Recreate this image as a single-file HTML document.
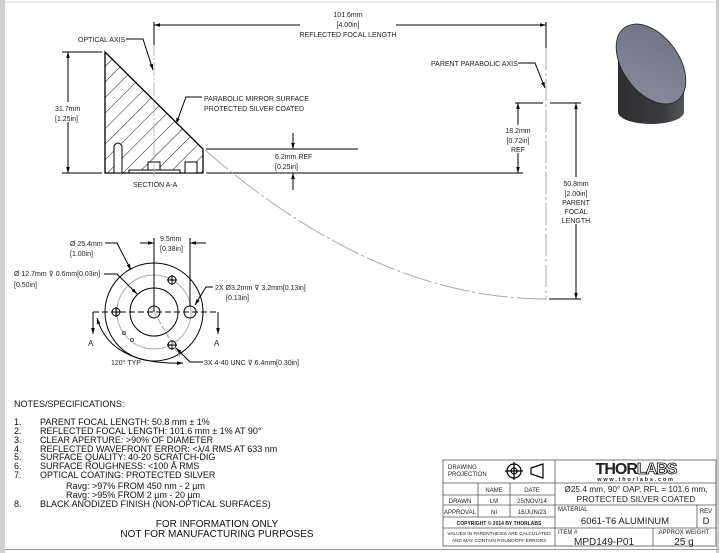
<!DOCTYPE html>
<html><head><meta charset="utf-8"><style>
html,body{margin:0;padding:0;background:#fff;}
svg{display:block;font-family:"Liberation Sans","DejaVu Sans",sans-serif;}
</style></head><body>
<svg width="723" height="553" viewBox="0 0 723 553" xmlns="http://www.w3.org/2000/svg">
<defs>
<marker id="ar" viewBox="0 0 10 10" refX="10" refY="5" markerWidth="6" markerHeight="6" orient="auto-start-reverse"><path d="M0,2 L10,5 L0,8 z" fill="#000"/></marker>
<pattern id="hatch" width="11" height="11" patternUnits="userSpaceOnUse" patternTransform="rotate(45)"><line x1="0" y1="0" x2="0" y2="11" stroke="#000" stroke-width="0.9"/></pattern>
<linearGradient id="body" x1="0" x2="1"><stop offset="0" stop-color="#2e2e30"/><stop offset="0.7" stop-color="#3c3c40"/><stop offset="1" stop-color="#55555c"/></linearGradient>
<linearGradient id="face" x1="0" y1="0" x2="1" y2="1"><stop offset="0" stop-color="#6e7183"/><stop offset="1" stop-color="#8a8d9d"/></linearGradient>
</defs>
<rect x="0" y="0" width="723" height="553" fill="#fff"/>
<rect x="0" y="0" width="5" height="553" fill="#d0d0d0"/>
<line x1="5" y1="2" x2="717" y2="2" stroke="#ddd"/>
<rect x="716" y="0" width="3" height="553" fill="#ccc"/>
<line x1="5" y1="549.5" x2="718" y2="549.5" stroke="#999"/>

<g stroke="#000" fill="none" stroke-width="1">
<path d="M105,52 L203,149 L203,173 L105,173 Z" fill="url(#hatch)" stroke-width="1.3"/>
<path d="M114,173 L114,146 Q118,140 122,146 L122,173 Z" fill="#fff"/>
<rect x="129" y="170" width="51" height="3" fill="#fff"/>
<rect x="148" y="162" width="12" height="8" fill="#fff"/>
<rect x="185" y="162" width="12" height="11" fill="#fff"/>
<line x1="154" y1="22" x2="154" y2="176" stroke="#bbb" stroke-dasharray="14,2,2,2"/>
<line x1="154" y1="22" x2="154" y2="45"/>
<line x1="546" y1="22" x2="546" y2="48"/>
<line x1="154" y1="25" x2="300" y2="25" marker-start="url(#ar)"/>
<line x1="396" y1="25" x2="546" y2="25" marker-end="url(#ar)"/>
<line x1="62" y1="52" x2="102" y2="52"/>
<line x1="62" y1="173" x2="102" y2="173"/>
<line x1="68" y1="52" x2="68" y2="102" marker-start="url(#ar)"/>
<line x1="68" y1="122" x2="68" y2="173" marker-end="url(#ar)"/>
<line x1="206" y1="173" x2="523" y2="173"/>
<line x1="206" y1="149" x2="358" y2="149"/>
<line x1="293" y1="133" x2="293" y2="149" marker-end="url(#ar)"/>
<line x1="293" y1="190" x2="293" y2="173" marker-end="url(#ar)"/>
<path d="M205,150 Q376,299 547,299" stroke="#aaa" stroke-dasharray="30,3,3,3"/>
<line x1="546" y1="48" x2="546" y2="299" stroke="#aaa" stroke-dasharray="22,3,3,3"/>
<line x1="515" y1="103" x2="543" y2="103"/>
<line x1="550" y1="103" x2="581" y2="103"/>
<line x1="549" y1="299" x2="581" y2="299"/>
<line x1="518" y1="125" x2="518" y2="103" marker-end="url(#ar)"/>
<line x1="518" y1="153" x2="518" y2="173" marker-end="url(#ar)"/>
<line x1="576" y1="177" x2="576" y2="103" marker-end="url(#ar)"/>
<line x1="576" y1="224" x2="576" y2="299" marker-end="url(#ar)"/>
<polyline points="126,39 143,39 153,70" marker-end="url(#ar)"/>
<polyline points="202,97 186,97 176,124" marker-end="url(#ar)"/>
<polyline points="518,63 535,63 545,88" marker-end="url(#ar)"/>

<circle cx="154" cy="312" r="49"/>
<circle cx="154" cy="312" r="37" stroke="#aaa"/>
<circle cx="154" cy="312" r="24"/>
<circle cx="154" cy="312" r="6"/>
<circle cx="190" cy="312" r="6"/>
<circle cx="116" cy="312" r="4"/><line x1="111" y1="312" x2="121" y2="312"/><line x1="116" y1="307" x2="116" y2="317"/>
<circle cx="172" cy="280" r="4"/><line x1="167" y1="280" x2="177" y2="280"/><line x1="172" y1="275" x2="172" y2="285"/>
<circle cx="172" cy="345" r="4"/><line x1="167" y1="345" x2="177" y2="345"/><line x1="172" y1="340" x2="172" y2="350"/>
<circle cx="124" cy="333" r="1.5" stroke="#555"/><circle cx="132" cy="340" r="1.5" stroke="#555"/>
<line x1="154" y1="312" x2="180" y2="357" stroke="#aaa" stroke-dasharray="6,2"/>
<line x1="93" y1="312" x2="218" y2="312" stroke-dasharray="6,3"/>
<line x1="93" y1="312" x2="93" y2="334" marker-end="url(#ar)"/>
<line x1="218" y1="312" x2="218" y2="334" marker-end="url(#ar)"/>
<line x1="154" y1="238" x2="154" y2="312"/>
<line x1="190" y1="238" x2="190" y2="306"/>
<line x1="140" y1="243" x2="154" y2="243" marker-end="url(#ar)"/>
<line x1="206" y1="243" x2="190" y2="243" marker-end="url(#ar)"/>
<polyline points="105,243 117,243 131,270" marker-end="url(#ar)"/>
<polyline points="104,274 117,274 137,294" marker-end="url(#ar)"/>
<polyline points="213,287 206,287 195,305" marker-end="url(#ar)"/>
<polyline points="203,362 190,362 176,348" marker-end="url(#ar)"/>
<path d="M97,318 Q110,365 183,363" marker-start="url(#ar)" marker-end="url(#ar)"/>
</g>

<path d="M618,45 L618,112 A33,12 0 0 0 684,112 L684,80 Z" fill="url(#body)"/>
<ellipse cx="651" cy="64" rx="45" ry="28" transform="rotate(54 651 64)" fill="url(#face)" stroke="#222" stroke-width="0.8"/>

<g font-size="7" fill="#222">
<text x="348" y="17" text-anchor="middle">101.6mm</text>
<text x="348" y="27" text-anchor="middle">[4.00in]</text>
<text x="348" y="37" text-anchor="middle">REFLECTED FOCAL LENGTH</text>
<text x="78" y="42">OPTICAL AXIS</text>
<text x="55" y="111">31.7mm</text>
<text x="55" y="121">[1.25in]</text>
<text x="204" y="101">PARABOLIC MIRROR SURFACE</text>
<text x="204" y="111">PROTECTED SILVER COATED</text>
<text x="275" y="159">6.2mm  REF</text>
<text x="275" y="169">[0.25in]</text>
<text x="133" y="187">SECTION A-A</text>
<text x="431" y="66">PARENT PARABOLIC AXIS</text>
<text x="518" y="133" text-anchor="middle">18.2mm</text>
<text x="518" y="143" text-anchor="middle">[0.72in]</text>
<text x="518" y="152" text-anchor="middle">REF</text>
<text x="576" y="186" text-anchor="middle">50.8mm</text>
<text x="576" y="196" text-anchor="middle">[2.00in]</text>
<text x="576" y="205" text-anchor="middle">PARENT</text>
<text x="576" y="214" text-anchor="middle">FOCAL</text>
<text x="576" y="223" text-anchor="middle">LENGTH</text>
<text x="70" y="246">Ø 25.4mm</text>
<text x="70" y="256">[1.00in]</text>
<text x="160" y="241">9.5mm</text>
<text x="160" y="251">[0.38in]</text>
<text x="14" y="276">Ø 12.7mm ⊽ 0.6mm[0.03in]</text>
<text x="14" y="287">[0.50in]</text>
<text x="215" y="290">2X  Ø3.2mm ⊽ 3.2mm[0.13in]</text>
<text x="226" y="300">[0.13in]</text>
<text x="88" y="346" font-size="8">A</text>
<text x="214" y="346" font-size="8">A</text>
<text x="111" y="365">120° TYP</text>
<text x="204" y="365">3X 4-40 UNC ⊽ 6.4mm[0.30in]</text>
</g>

<g font-size="9" fill="#111">
<text x="14" y="407">NOTES/SPECIFICATIONS:</text>
<text x="14" y="425">1.</text><text x="40" y="425">PARENT FOCAL LENGTH: 50.8 mm ± 1%</text>
<text x="14" y="434">2.</text><text x="40" y="434">REFLECTED FOCAL LENGTH: 101.6 mm ± 1% AT 90°</text>
<text x="14" y="443">3.</text><text x="40" y="443">CLEAR APERTURE: &gt;90% OF DIAMETER</text>
<text x="14" y="452">4.</text><text x="40" y="452">REFLECTED WAVEFRONT ERROR: &lt;λ/4 RMS AT 633 nm</text>
<text x="14" y="460">5.</text><text x="40" y="460">SURFACE QUALITY: 40-20 SCRATCH-DIG</text>
<text x="14" y="469">6.</text><text x="40" y="469">SURFACE ROUGHNESS: &lt;100 Å RMS</text>
<text x="14" y="478">7.</text><text x="40" y="478">OPTICAL COATING: PROTECTED SILVER</text>
<text x="66" y="489">Ravg: &gt;97% FROM 450 nm - 2 µm</text>
<text x="66" y="498">Ravg: &gt;95% FROM 2 µm - 20 µm</text>
<text x="14" y="507">8.</text><text x="40" y="507">BLACK ANODIZED FINISH (NON-OPTICAL SURFACES)</text>
<text x="217" y="527" text-anchor="middle" font-size="10">FOR INFORMATION ONLY</text>
<text x="217" y="537" text-anchor="middle" font-size="10">NOT FOR MANUFACTURING PURPOSES</text>
</g>

<g stroke="#555" stroke-width="0.8" fill="none">
<rect x="443" y="460" width="273" height="86"/>
<line x1="555" y1="460" x2="555" y2="546"/>
<line x1="443" y1="483" x2="716" y2="483"/>
<line x1="443" y1="495" x2="555" y2="495"/>
<line x1="443" y1="505" x2="716" y2="505"/>
<line x1="443" y1="517" x2="555" y2="517"/>
<line x1="443" y1="528" x2="716" y2="528"/>
<line x1="478" y1="483" x2="478" y2="517"/>
<line x1="510" y1="483" x2="510" y2="517"/>
<line x1="697" y1="505" x2="697" y2="528"/>
<line x1="653" y1="528" x2="653" y2="546"/>
</g>
<g stroke="#000" fill="none" stroke-width="1.2">
<circle cx="514" cy="471" r="7"/><circle cx="514" cy="471" r="3"/>
<line x1="505" y1="471" x2="523" y2="471"/><line x1="514" y1="462" x2="514" y2="480"/>
<path d="M531,468 L543,464 L543,478 L531,474 Z"/>
</g>
<g fill="#222" font-size="6">
<text x="448" y="469">DRAWING</text><text x="448" y="476">PROJECTION</text>
<text x="494" y="492" text-anchor="middle">NAME</text>
<text x="532" y="492" text-anchor="middle">DATE</text>
<text x="460" y="503" text-anchor="middle">DRAWN</text>
<text x="494" y="503" text-anchor="middle">LM</text>
<text x="532" y="503" text-anchor="middle">25/NOV/14</text>
<text x="460" y="514" text-anchor="middle">APPROVAL</text>
<text x="494" y="514" text-anchor="middle">NI</text>
<text x="532" y="514" text-anchor="middle">16/JUN/23</text>
<text x="499" y="525" text-anchor="middle" font-size="5" font-weight="bold">COPYRIGHT © 2014 BY THORLABS</text>
<text x="499" y="535" text-anchor="middle" font-size="4.8">VALUES IN PARENTHESIS ARE CALCULATED</text>
<text x="499" y="542" text-anchor="middle" font-size="4.8">AND MAY CONTAIN ROUNDOFF ERRORS</text>
<text x="636" y="474" text-anchor="middle" font-size="16" font-weight="bold" letter-spacing="-1">THOR<tspan fill="#fff" stroke="#000" stroke-width="0.8">LABS</tspan></text>
<text x="636" y="481" text-anchor="middle" font-size="5.5" font-weight="bold" letter-spacing="1.8">www.thorlabs.com</text>
<text x="636" y="492" text-anchor="middle" font-size="8.3">Ø25.4 mm, 90° OAP, RFL = 101.6 mm,</text>
<text x="636" y="502" text-anchor="middle" font-size="8.3">PROTECTED SILVER COATED</text>
<text x="558" y="511">MATERIAL</text>
<text x="625" y="524" text-anchor="middle" font-size="9.5">6061-T6 ALUMINUM</text>
<text x="706" y="513" text-anchor="middle">REV</text>
<text x="706" y="524" text-anchor="middle" font-size="9.5">D</text>
<text x="558" y="534">ITEM #</text>
<text x="604" y="545" text-anchor="middle" font-size="10">MPD149-P01</text>
<text x="684" y="534" text-anchor="middle">APPROX WEIGHT</text>
<text x="684" y="545" text-anchor="middle" font-size="10">25 g</text>
</g>
</svg>
</body></html>
